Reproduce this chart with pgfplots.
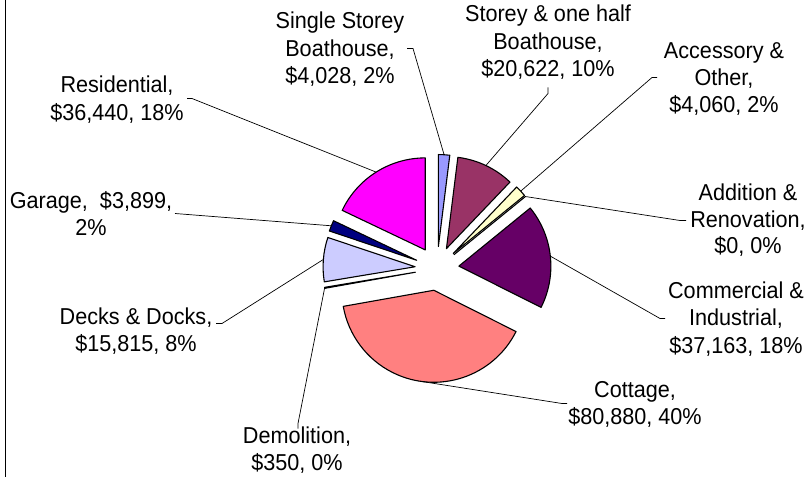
\documentclass[border=0pt]{standalone}
\usepackage{pgfplots}
\pgfplotsset{compat=1.18}
\usepackage{pgfplotstable}
\usepackage{fontspec}
\setmainfont[FakeStretch=0.94]{Liberation Sans}
\definecolor{c0}{HTML}{9999FF}
\definecolor{c1}{HTML}{993366}
\definecolor{c2}{HTML}{FFFFCC}
\definecolor{c3}{HTML}{CCFFFF}
\definecolor{c4}{HTML}{660066}
\definecolor{c5}{HTML}{FF8080}
\definecolor{c6}{HTML}{0066CC}
\definecolor{c7}{HTML}{CCCCFF}
\definecolor{c8}{HTML}{000080}
\definecolor{c9}{HTML}{FF00FF}
% slices, clockwise from 12 o'clock
\pgfplotstableread{
value
4028
20622
4060
0
37163
80880
350
15815
3899
36440
}\piedata
\begin{document}
\begin{tikzpicture}[font=\fontsize{23}{27}\selectfont]
\gdef\total{0}
\foreach \i in {0,...,9}{%
  \pgfplotstablegetelem{\i}{value}\of\piedata
  \pgfkeys{/pgf/fpu=true,/pgf/fpu/output format=fixed}%
  \pgfmathparse{\total+\pgfplotsretval}%
  \xdef\total{\pgfmathresult}%
}
\gdef\cum{0}
\foreach \i in {0,...,9}{%
  \pgfplotstablegetelem{\i}{value}\of\piedata
  \pgfkeys{/pgf/fpu=true,/pgf/fpu/output format=fixed}%
  \pgfmathsetmacro\nc{\cum+\pgfplotsretval}%
  \pgfmathsetmacro\sa{90-360*\cum/\total}%
  \pgfmathsetmacro\ea{90-360*\nc/\total}%
  \pgfmathsetmacro\ma{(\sa+\ea)/2}%
  \pgfmathsetmacro\ax{437+22*cos(\ma)}%
  \pgfmathsetmacro\ay{208+22*sin(\ma)}%
  \pgfmathsetmacro\px{\ax+92*cos(\sa)}%
  \pgfmathsetmacro\py{\ay+92*sin(\sa)}%
  \pgfmathsetmacro\mx{437+114*cos(\ma)}%
  \pgfmathsetmacro\my{208+114*sin(\ma)}%
  \expandafter\xdef\csname aS\i\endcsname{\sa}%
  \expandafter\xdef\csname aE\i\endcsname{\ea}%
  \expandafter\xdef\csname ax\i\endcsname{\ax}%
  \expandafter\xdef\csname ay\i\endcsname{\ay}%
  \expandafter\xdef\csname px\i\endcsname{\px}%
  \expandafter\xdef\csname py\i\endcsname{\py}%
  \expandafter\xdef\csname mx\i\endcsname{\mx}%
  \expandafter\xdef\csname my\i\endcsname{\my}%
  \xdef\cum{\nc}%
}
\begin{axis}[
  scale only axis, width=810pt, height=476pt,
  xmin=0, xmax=810, ymin=0, ymax=476,
  hide axis, clip=false]
\path (axis cs:0,0) rectangle (axis cs:810,476);
\draw[line width=1pt] (axis cs:5,0) -- (axis cs:5,476);
\pgfplotsinvokeforeach{0,...,9}{%
  \filldraw[fill=c#1, draw=black, line width=1.1pt, line join=round]
    (axis cs:\csname ax#1\endcsname,\csname ay#1\endcsname)
    -- (axis cs:\csname px#1\endcsname,\csname py#1\endcsname)
    arc[start angle=\csname aS#1\endcsname, end angle=\csname aE#1\endcsname, radius=92pt]
    -- cycle;
}
% leader lines
\draw[line width=0.7pt] (axis cs:407,428) -- (axis cs:413,428) -- (axis cs:\csname mx0\endcsname,\csname my0\endcsname);
\draw[line width=0.7pt] (axis cs:548,389) -- (axis cs:548,383) -- (axis cs:\csname mx1\endcsname,\csname my1\endcsname);
\draw[line width=0.7pt] (axis cs:657,399) -- (axis cs:652,399) -- (axis cs:\csname mx2\endcsname,\csname my2\endcsname);
\draw[line width=0.7pt] (axis cs:686,256) -- (axis cs:680,256) -- (axis cs:\csname mx3\endcsname,\csname my3\endcsname);
\draw[line width=0.7pt] (axis cs:665,158) -- (axis cs:660,158) -- (axis cs:\csname mx4\endcsname,\csname my4\endcsname);
\draw[line width=0.7pt] (axis cs:567,73) -- (axis cs:562,73) -- (axis cs:\csname mx5\endcsname,\csname my5\endcsname);
\draw[line width=0.7pt] (axis cs:298,48) -- (axis cs:298,53) -- (axis cs:\csname mx6\endcsname,\csname my6\endcsname);
\draw[line width=0.7pt] (axis cs:216,153) -- (axis cs:222,153) -- (axis cs:\csname mx7\endcsname,\csname my7\endcsname);
\draw[line width=0.7pt] (axis cs:175,263) -- (axis cs:\csname mx8\endcsname,\csname my8\endcsname);
\draw[line width=0.7pt] (axis cs:187,378) -- (axis cs:192,378) -- (axis cs:\csname mx9\endcsname,\csname my9\endcsname);
% labels
\node[anchor=base, inner sep=0] at (axis cs:340,448) {Single Storey};
\node[anchor=base, inner sep=0] at (axis cs:340,420) {Boathouse,};
\node[anchor=base, inner sep=0] at (axis cs:340,393) {\$4,028, 2\%};
\node[anchor=base, inner sep=0] at (axis cs:548,455) {Storey \& one half};
\node[anchor=base, inner sep=0] at (axis cs:548,427) {Boathouse,};
\node[anchor=base, inner sep=0] at (axis cs:548,400) {\$20,622, 10\%};
\node[anchor=base, inner sep=0] at (axis cs:724,418) {Accessory \&};
\node[anchor=base, inner sep=0] at (axis cs:724,391) {Other,};
\node[anchor=base, inner sep=0] at (axis cs:724,364) {\$4,060, 2\%};
\node[anchor=base, inner sep=0] at (axis cs:748,276) {Addition \&};
\node[anchor=base, inner sep=0] at (axis cs:748,249) {Renovation,};
\node[anchor=base, inner sep=0] at (axis cs:748,223) {\$0, 0\%};
\node[anchor=base, inner sep=0] at (axis cs:736,178) {Commercial \&};
\node[anchor=base, inner sep=0] at (axis cs:736,151) {Industrial,};
\node[anchor=base, inner sep=0] at (axis cs:736,123) {\$37,163, 18\%};
\node[anchor=base, inner sep=0] at (axis cs:635,79) {Cottage,};
\node[anchor=base, inner sep=0] at (axis cs:635,52) {\$80,880, 40\%};
\node[anchor=base, inner sep=0] at (axis cs:297,33) {Demolition,};
\node[anchor=base, inner sep=0] at (axis cs:297,6) {\$350, 0\%};
\node[anchor=base, inner sep=0] at (axis cs:136,152) {Decks \& Docks,};
\node[anchor=base, inner sep=0] at (axis cs:136,125) {\$15,815, 8\%};
\node[anchor=base, inner sep=0] at (axis cs:91,268) {Garage,\ \ \$3,899,};
\node[anchor=base, inner sep=0] at (axis cs:91,241) {2\%};
\node[anchor=base, inner sep=0] at (axis cs:117,384) {Residential,};
\node[anchor=base, inner sep=0] at (axis cs:117,356) {\$36,440, 18\%};
\end{axis}
\end{tikzpicture}
\end{document}
